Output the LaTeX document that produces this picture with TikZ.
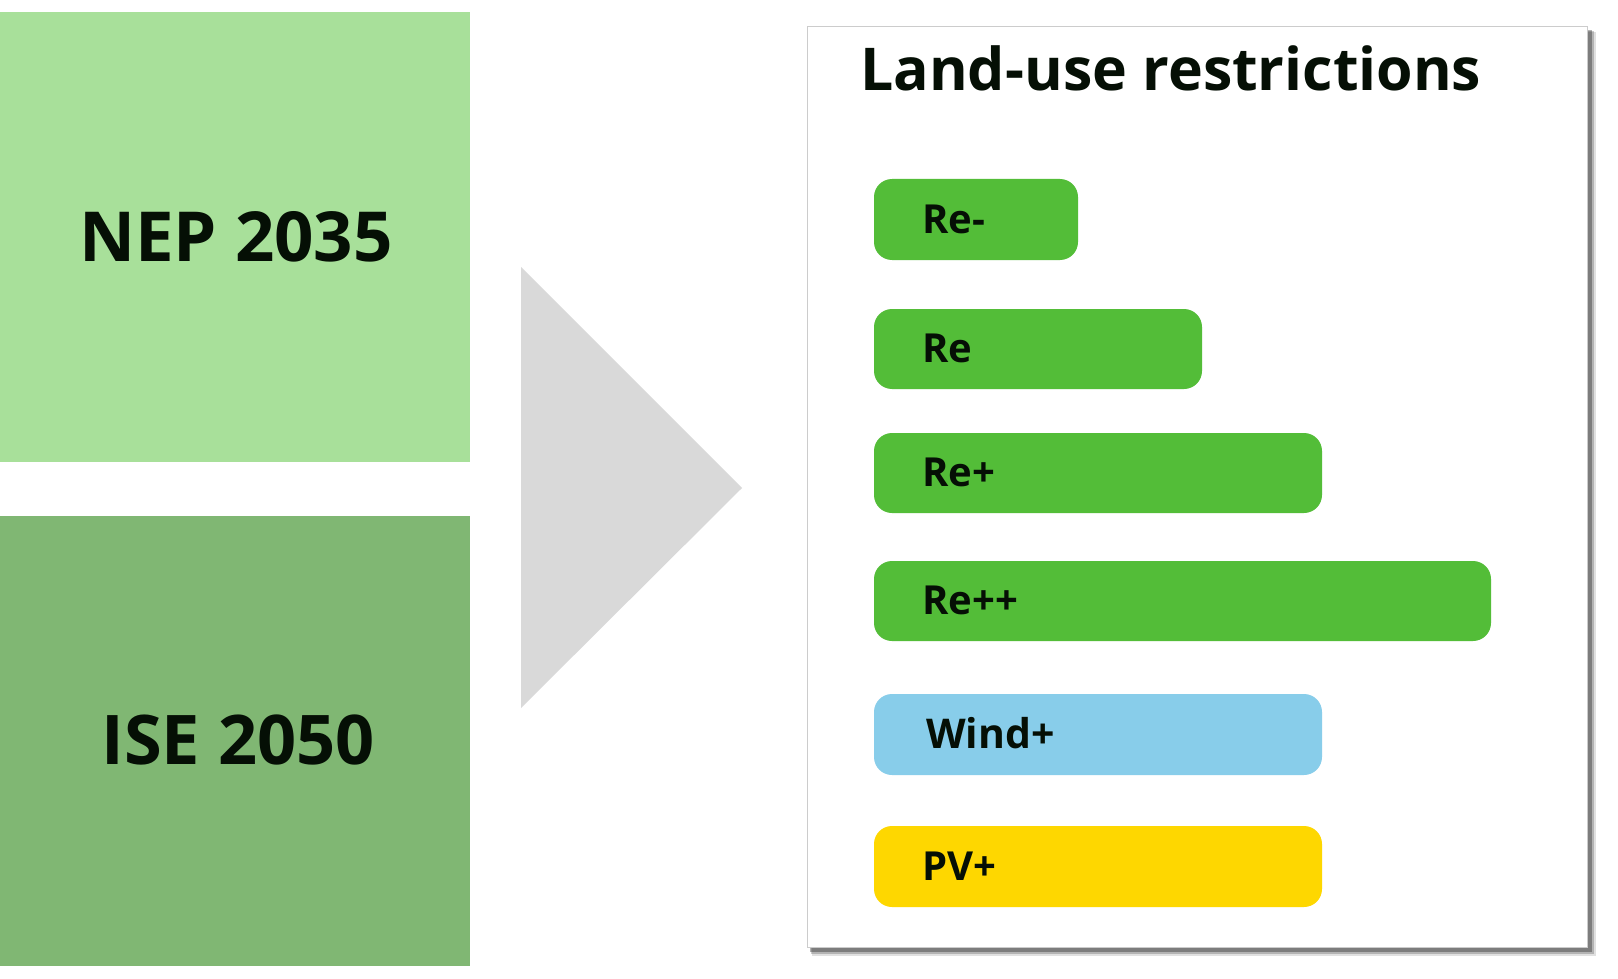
\documentclass[tikz,border=0pt]{standalone}
\usepackage{fontspec}
\setmainfont{Open Sans}
\definecolor{txt}{RGB}{5,15,5}
\definecolor{lightg}{RGB}{168,224,154}
\definecolor{darkg}{RGB}{128,183,115}
\definecolor{barg}{RGB}{83,189,56}
\definecolor{barb}{RGB}{136,205,234}
\definecolor{bary}{RGB}{254,215,0}
\definecolor{tri}{RGB}{217,217,217}
\tikzset{
  bigbox/.style={rectangle, inner sep=0pt, outer sep=0pt, minimum width=470pt, minimum height=450pt, anchor=north west},
  bigtext/.style={text=txt, font=\bfseries\fontsize{69}{80}\selectfont, inner sep=0pt, anchor=base},
  bar/.style={rectangle, rounded corners=18pt, inner sep=0pt, outer sep=0pt, anchor=north west},
  bartext/.style={text=txt, font=\bfseries\fontsize{40}{46}\selectfont, inner sep=0pt, anchor=base west},
  titletext/.style={text=txt, font=\bfseries\fontsize{59}{70}\selectfont, inner sep=0pt, anchor=base west}
}
\begin{document}
\begin{tikzpicture}[x=1pt,y=-1pt]
\useasboundingbox (0,0) rectangle (1618,979);
% left boxes
\node[bigbox, fill=lightg] (nep) at (0,12) {};
\node[bigtext] (nept) at (236,261) {NEP 2035};
\node[bigbox, fill=darkg] (ise) at (0,516) {};
\node[bigtext, font=\bfseries\fontsize{68.5}{80}\selectfont] (iset) at (238,764) {ISE 2050};
% arrow triangle
\fill[tri] (521,267) -- (742,488) -- (521,708) -- cycle;
% panel shadow
\fill[black, opacity=0.12] (812,32) rectangle (1596,956);
\fill[black, opacity=0.20] (811,31) rectangle (1594,954);
\fill[black, opacity=0.30] (810,30) rectangle (1592,952);
\node[rectangle, draw=black!20, line width=1pt, fill=white, inner sep=0pt, outer sep=0pt, minimum width=780pt, minimum height=920pt, anchor=north west] (panel) at (807,27) {};
\node[titletext] (title) at (860,91) {Land-use restrictions};
% bars
\node[bar, fill=barg, minimum width=204pt, minimum height=81pt] (rem) at (874,179) {};
\node[bartext] (remt) at ([xshift=48pt,yshift=-14pt]rem.west) {Re-};
\node[bar, fill=barg, minimum width=328pt, minimum height=80pt] (re) at (874,309) {};
\node[bartext] (ret) at ([xshift=48pt,yshift=-13pt]re.west) {Re};
\node[bar, fill=barg, minimum width=448pt, minimum height=80pt] (rep) at (874,433) {};
\node[bartext] (rept) at ([xshift=48pt,yshift=-13pt]rep.west) {Re+};
\node[bar, fill=barg, minimum width=617pt, minimum height=80pt] (repp) at (874,561) {};
\node[bartext] (reppt) at ([xshift=48pt,yshift=-13pt]repp.west) {Re++};
\node[bar, fill=barb, minimum width=448pt, minimum height=81pt] (wind) at (874,694) {};
\node[bartext, font=\bfseries\fontsize{41}{46}\selectfont] (windt) at ([xshift=52pt,yshift=-14pt]wind.west) {Wind+};
\node[bar, fill=bary, minimum width=448pt, minimum height=81pt] (pv) at (874,826) {};
\node[bartext] (pvt) at ([xshift=48pt,yshift=-14pt]pv.west) {PV+};
\end{tikzpicture}
\end{document}
